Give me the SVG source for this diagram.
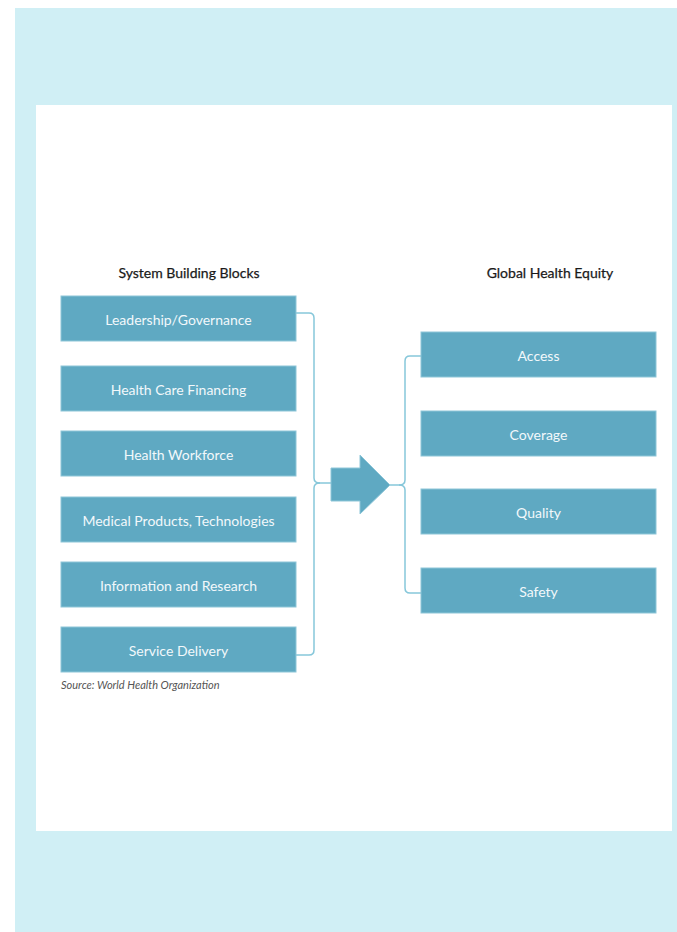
<svg xmlns="http://www.w3.org/2000/svg" width="677" height="932" viewBox="0 0 677 932">
<style>
.box{fill:#5fa9c2;stroke:#8ec6d8;stroke-width:1}
.lbl{font-family:Lato,"Open Sans",sans-serif;font-size:14px;fill:#f2f8fb;text-anchor:middle}
.ttl{font-family:Lato,"Open Sans",sans-serif;font-size:14px;fill:#1a1a1a;text-anchor:middle;stroke:#1a1a1a;stroke-width:0.25}
.con{fill:none;stroke:#86c7da;stroke-width:1.5}
</style>
<rect x="0" y="0" width="677" height="932" fill="#ffffff"/>
<rect x="15" y="8" width="662" height="924" fill="#d0eff5"/>
<rect x="36" y="105" width="636" height="726" fill="#ffffff"/>
<text class="ttl" x="189" y="278">System Building Blocks</text>
<text class="ttl" x="550" y="278">Global Health Equity</text>
<g id="connectors">
<path class="con" d="M296,313 L309,313 Q314,313 314,318 L314,478 Q314,483 320,483 L331,483"/>
<path class="con" d="M296,655 L309,655 Q314,655 314,650 L314,488 Q314,483 320,483"/>
<path class="con" d="M390,485 L399,485 Q405,485 405,480 L405,361 Q405,356 410,356 L421,356"/>
<path class="con" d="M399,485 Q405,485 405,490 L405,588 Q405,593 410,593 L421,593"/>
</g>
<g id="arrow"><polygon points="331,468 360,468 360,455 390,485 360,514 360,501 331,501" fill="#5fa9c2" stroke="#8ec6d8" stroke-width="1"/></g>
<g id="n1"><rect class="box" x="61" y="296" width="235" height="45"/><text class="lbl" x="178.5" y="324.5">Leadership/Governance</text></g>
<g id="n2"><rect class="box" x="61" y="366" width="235" height="45"/><text class="lbl" x="178.5" y="394.5">Health Care Financing</text></g>
<g id="n3"><rect class="box" x="61" y="431" width="235" height="45"/><text class="lbl" x="178.5" y="459.5">Health Workforce</text></g>
<g id="n4"><rect class="box" x="61" y="497" width="235" height="45"/><text class="lbl" x="178.5" y="525.5">Medical Products, Technologies</text></g>
<g id="n5"><rect class="box" x="61" y="562" width="235" height="45"/><text class="lbl" x="178.5" y="590.5">Information and Research</text></g>
<g id="n6"><rect class="box" x="61" y="627" width="235" height="45"/><text class="lbl" x="178.5" y="655.5">Service Delivery</text></g>
<g id="r1"><rect class="box" x="421" y="332" width="235" height="45"/><text class="lbl" x="538.5" y="360.5">Access</text></g>
<g id="r2"><rect class="box" x="421" y="411" width="235" height="45"/><text class="lbl" x="538.5" y="439.5">Coverage</text></g>
<g id="r3"><rect class="box" x="421" y="489" width="235" height="45"/><text class="lbl" x="538.5" y="517.5">Quality</text></g>
<g id="r4"><rect class="box" x="421" y="568" width="235" height="45"/><text class="lbl" x="538.5" y="596.5">Safety</text></g>
<text x="61" y="689" font-family="Lato,'Open Sans',sans-serif" font-size="11px" font-style="italic" fill="#555">Source: World Health Organization</text>
</svg>
